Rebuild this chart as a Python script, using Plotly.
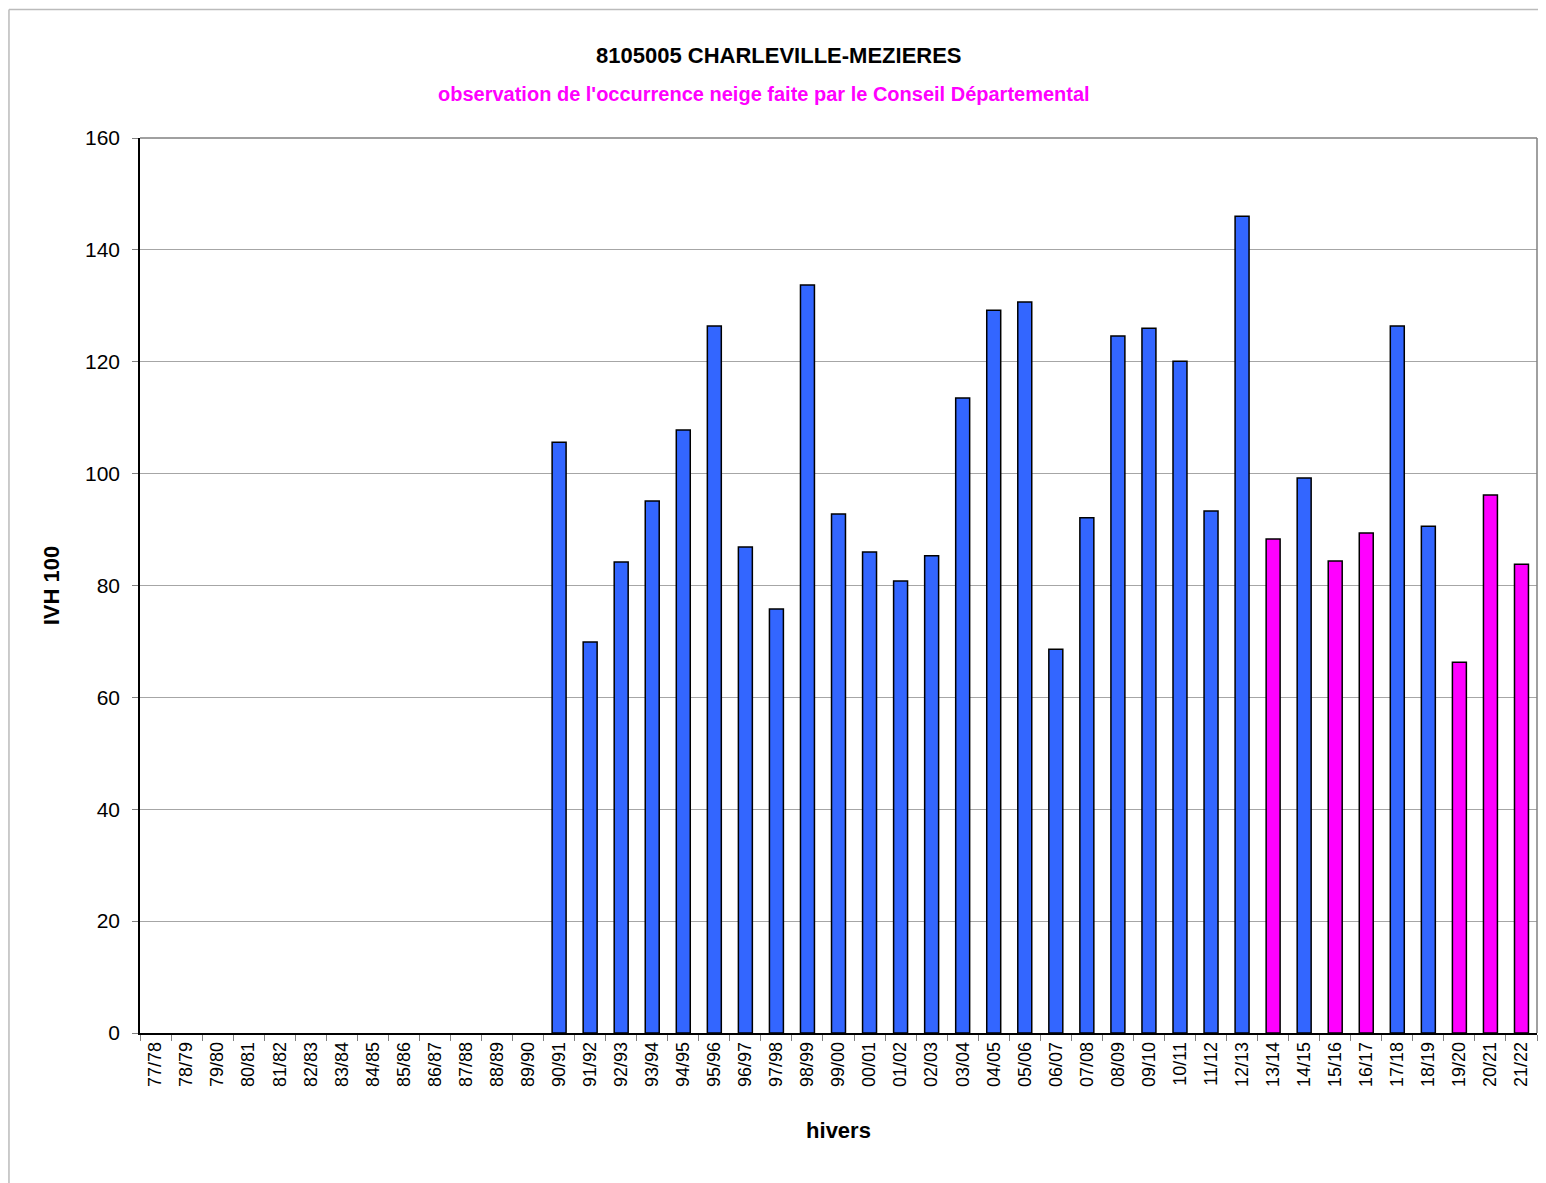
import plotly.graph_objects as go

# hivers 77/78 .. 21/22
winters = [f"{y % 100:02d}/{(y + 1) % 100:02d}" for y in range(1977, 2022)]

# IVH 100 per winter (None = no data)
ivh = [None] * 13 + [
    105.6, 69.9, 84.2, 95.1, 107.8, 126.4, 86.9, 75.8, 133.7, 92.8,
    86.0, 80.8, 85.3, 113.5, 129.2, 130.7, 68.6, 92.1, 124.6, 126.0,
    120.1, 93.3, 146.0, 88.3, 99.2, 84.4, 89.4, 126.4, 90.6, 66.3,
    96.2, 83.8,
]

# winters where snow occurrence was observed by the Conseil Départemental
cd_obs = ["13/14", "15/16", "16/17", "19/20", "20/21", "21/22"]

BLUE = "#3366FF"
MAGENTA = "#FF00FF"
colors = [MAGENTA if w in cd_obs else BLUE for w in winters]

fig = go.Figure(
    data=[go.Bar(x=winters, y=ivh,
                 marker=dict(color=colors, line=dict(color="black", width=1.5)))],
)

# page body has an 8px margin, so the figure is 8px smaller than the window
fig.update_layout(
    width=1538, height=1175,
    margin=dict(l=132, r=9, t=130, b=150),
    paper_bgcolor="white", plot_bgcolor="white",
    font=dict(family="Liberation Sans, Arial", color="black"),
    bargap=0.55,
    showlegend=False,
    annotations=[
        dict(text="<b>8105005 CHARLEVILLE-MEZIERES</b>", x=0.4574, y=1.0, xref="paper",
             yref="paper", yanchor="middle", yshift=83, showarrow=False, font=dict(size=22)),
        dict(text="<b>observation de l'occurrence neige faite par le Conseil Départemental</b>",
             x=0.4467, y=1.0, xref="paper", yref="paper", yanchor="middle", yshift=44,
             showarrow=False, font=dict(size=20, color=MAGENTA)),
    ],
    shapes=[
        # light frame around the chart area
        dict(type="line", xref="paper", yref="paper", x0=-0.0938, x1=1.01, y0=1.1436, y1=1.1436,
             line=dict(color="#BBBBBB", width=1.5)),
        dict(type="line", xref="paper", yref="paper", x0=-0.0938, x1=-0.0938, y0=1.1436, y1=-0.17,
             line=dict(color="#BBBBBB", width=1.5)),
        # grey plot-area border (top and right)
        dict(type="line", xref="paper", yref="paper", x0=0, x1=1, y0=1, y1=1,
             line=dict(color="#808080", width=1.5)),
        dict(type="line", xref="paper", yref="paper", x0=1, x1=1, y0=0, y1=1,
             line=dict(color="#808080", width=1.5)),
    ],
)

fig.update_xaxes(
    type="category", tickangle=-90, tickson="boundaries",
    ticks="outside", ticklen=6, tickcolor="#808080",
    tickfont=dict(size=18), showline=True, linecolor="black", linewidth=1.5,
    title=dict(text="<b>hivers</b>", font=dict(size=22), standoff=37),
)
fig.update_yaxes(
    range=[0, 160], dtick=20, ticks="outside", ticklen=6, tickcolor="#808080",
    tickfont=dict(size=21), ticklabelstandoff=8, showgrid=True, gridcolor="#A6A6A6",
    gridwidth=1, showline=True, linecolor="black", linewidth=1.5, zeroline=False,
    title=dict(text="<b>IVH 100</b>", font=dict(size=22), standoff=19),
)

fig.write_html("out.html")
